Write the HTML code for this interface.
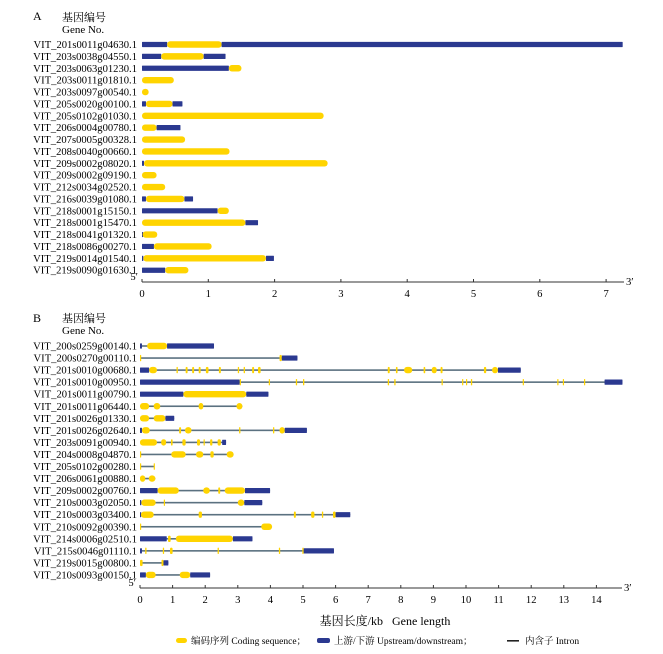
<!DOCTYPE html>
<html><head><meta charset="utf-8"><style>
html,body{margin:0;padding:0;background:#fff}
svg{display:block;font-family:"Liberation Serif","Noto Serif CJK SC",serif}
</style></head><body>
<svg id="chart" width="663" height="654" viewBox="0 0 663 654" xmlns="http://www.w3.org/2000/svg">
<text x="33" y="20" font-size="12">A</text>
<text x="62" y="21" font-size="11">基因编号</text>
<text x="62" y="33" font-size="11">Gene No.</text>
<text x="33" y="322" font-size="12">B</text>
<text x="62" y="322" font-size="11">基因编号</text>
<text x="62" y="334" font-size="11">Gene No.</text>
<text x="385" y="625" font-size="12" text-anchor="middle">基因长度/kb&#160;&#160;&#160;Gene length</text>
<g font-size="9.5">
<rect x="176" y="638" width="11" height="5" rx="2.5" fill="#FFD400"/>
<text x="191" y="644">编码序列 Coding sequence；</text>
<rect x="317" y="638" width="13" height="5" rx="2" fill="#2B3990"/>
<text x="334" y="644">上游/下游 Upstream/downstream；</text>
<rect x="507" y="640" width="12" height="1.6" fill="#222"/>
<text x="525" y="644">内含子 Intron</text>
</g>
</svg>
<script>
const namesA = ["VIT_201s0011g04630.1","VIT_203s0038g04550.1","VIT_203s0063g01230.1","VIT_203s0011g01810.1","VIT_203s0097g00540.1","VIT_205s0020g00100.1","VIT_205s0102g01030.1","VIT_206s0004g00780.1","VIT_207s0005g00328.1","VIT_208s0040g00660.1","VIT_209s0002g08020.1","VIT_209s0002g09190.1","VIT_212s0034g02520.1","VIT_216s0039g01080.1","VIT_218s0001g15150.1","VIT_218s0001g15470.1","VIT_218s0041g01320.1","VIT_218s0086g00270.1","VIT_219s0014g01540.1","VIT_219s0090g01630.1"];
const segsA = [
 [["b",0,0.38],["y",0.38,1.2],["b",1.2,7.25]],
 [["b",0,0.29],["y",0.29,0.93],["b",0.93,1.26]],
 [["b",0,1.31],["y",1.31,1.5]],
 [["y",0,0.48]],
 [["y",0,0.1]],
 [["b",0,0.06],["y",0.06,0.46],["b",0.46,0.61]],
 [["y",0,2.74]],
 [["y",0,0.22],["b",0.22,0.58]],
 [["y",0,0.65]],
 [["y",0,1.32]],
 [["b",0,0.03],["y",0.03,2.8]],
 [["y",0,0.22]],
 [["y",0,0.35]],
 [["b",0,0.06],["y",0.06,0.64],["b",0.64,0.77]],
 [["b",0,1.14],["y",1.14,1.31]],
 [["y",0,1.56],["b",1.56,1.75]],
 [["b",0,0.01],["y",0.01,0.23]],
 [["b",0,0.18],["y",0.18,1.05]],
 [["b",0,0.02],["y",0.02,1.87],["b",1.87,1.99]],
 [["b",0,0.35],["y",0.35,0.7]]
];
const ticksA = [0,1,2,3,4,5,6,7];

const namesB = ["VIT_200s0259g00140.1","VIT_200s0270g00110.1","VIT_201s0010g00680.1","VIT_201s0010g00950.1","VIT_201s0011g00790.1","VIT_201s0011g06440.1","VIT_201s0026g01330.1","VIT_201s0026g02640.1","VIT_203s0091g00940.1","VIT_204s0008g04870.1","VIT_205s0102g00280.1","VIT_206s0061g00880.1","VIT_209s0002g00760.1","VIT_210s0003g02050.1","VIT_210s0003g03400.1","VIT_210s0092g00390.1","VIT_214s0006g02510.1","VIT_215s0046g01110.1","VIT_219s0015g00800.1","VIT_210s0093g00150.1"];
const totalB = [2.27,4.83,11.68,14.8,3.94,3.14,1.05,5.12,2.64,2.87,0.45,0.47,3.99,3.75,6.45,4.05,3.45,5.95,0.87,2.15];
const segsB = [
 [["b",0,0.06],["y",0.22,0.83],["b",0.83,2.27]],
 [["y",0,0.02],["y",4.28,4.35],["b",4.35,4.83]],
 [["b",0,0.28],["y",0.28,0.52],["y",1.12,1.16],["y",1.4,1.46],["y",1.6,1.66],["y",1.8,1.86],["y",2.02,2.1],["y",2.42,2.48],["y",3.0,3.04],["y",3.18,3.22],["y",3.44,3.5],["y",3.62,3.7],["y",7.6,7.66],["y",7.85,7.9],["y",8.1,8.35],["y",8.7,8.75],["y",8.95,9.1],["y",9.22,9.28],["y",10.55,10.62],["y",10.8,10.98],["b",10.98,11.68]],
 [["b",0,3.06],["y",3.06,3.08],["y",3.95,3.98],["y",4.78,4.82],["y",5.0,5.04],["y",7.6,7.64],["y",7.8,7.84],["y",9.25,9.28],["y",9.88,9.91],["y",10.0,10.03],["y",10.15,10.19],["y",11.74,11.77],["y",12.8,12.83],["y",12.97,13.0],["y",13.62,13.65],["b",14.25,14.8]],
 [["b",0,1.33],["y",1.33,3.26],["b",3.26,3.94]],
 [["y",0,0.28],["y",0.42,0.62],["y",1.8,1.94],["y",2.96,3.14]],
 [["y",0,0.28],["y",0.42,0.78],["b",0.78,1.05]],
 [["b",0,0.06],["y",0.06,0.3],["y",1.2,1.26],["y",1.38,1.58],["y",3.04,3.08],["y",4.08,4.12],["y",4.28,4.44],["b",4.44,5.12]],
 [["y",0,0.52],["y",0.65,0.8],["y",0.95,1.0],["y",1.3,1.4],["y",1.75,1.84],["y",1.95,1.98],["y",2.15,2.22],["y",2.38,2.48],["b",2.52,2.64]],
 [["y",0,0.03],["y",0.96,1.4],["y",1.72,1.94],["y",2.16,2.26],["y",2.66,2.87]],
 [["y",0,0.02],["y",0.42,0.45]],
 [["y",0,0.16],["y",0.27,0.47]],
 [["b",0,0.54],["y",0.54,1.19],["y",1.94,2.14],["y",2.4,2.46],["y",2.6,3.22],["b",3.22,3.99]],
 [["b",0,0.04],["y",0.04,0.48],["y",0.73,0.76],["y",3.0,3.2],["b",3.2,3.75]],
 [["b",0,0.03],["y",0.03,0.42],["y",1.8,1.9],["y",4.72,4.78],["y",5.25,5.35],["y",5.58,5.62],["y",5.92,6.0],["b",6.0,6.45]],
 [["y",0,0.02],["y",3.72,4.05]],
 [["b",0,0.82],["y",0.86,0.94],["y",1.1,2.85],["b",2.85,3.45]],
 [["b",0,0.06],["y",0.16,0.2],["y",0.7,0.74],["y",0.92,1.0],["y",2.38,2.42],["y",4.26,4.3],["y",4.98,5.02],["b",5.02,5.95]],
 [["y",0,0.08],["y",0.66,0.72],["b",0.72,0.87]],
 [["b",0,0.18],["y",0.18,0.48],["y",1.22,1.54],["b",1.54,2.15]]
];
const ticksB = [0,1,2,3,4,5,6,7,8,9,10,11,12,13,14];

const NS="http://www.w3.org/2000/svg";
const svg=document.getElementById("chart");
function mk(tag,attrs,parent){const e=document.createElementNS(NS,tag);for(const k in attrs)e.setAttribute(k,attrs[k]);(parent||svg).appendChild(e);return e;}

function panel(cfg,names,segs,totals,ticks,id){
  const xs=v=>cfg.x0+v*cfg.pxPerKb;
  const ys=i=>cfg.y0+i*cfg.step;
  const g=mk("g",{});
  
  
  names.forEach((n,i)=>{
    const t=mk("text",{x:137,y:ys(i)+3.5,"font-size":"10.6","text-anchor":"end"},g);
    t.textContent=n;
    
    
    if(totals){
      const l=mk("rect",{x:xs(0),y:ys(i)-0.8,width:xs(totals[i])-xs(0),height:1.6,fill:"#5b7180"},g);
      
      
    }
    segs[i].forEach(s=>{
      const w=Math.max(xs(s[2])-xs(s[1]),1.2);
      const y=s[0]==="y";
      const r=mk("rect",{x:xs(s[1]),y:ys(i)-(y?3.2:2.6),width:w,height:y?6.4:5.2,rx:y?Math.min(3,w/2):0.5,fill:y?"#FFD400":"#2B3990"},g);
      
      
    });
  });
  const ax=mk("line",{x1:cfg.x0,x2:cfg.axEnd,y1:cfg.axY,y2:cfg.axY,stroke:"#333","stroke-width":1},g);
  
  
  ticks.forEach(v=>{
    const tk=mk("line",{x1:xs(v),x2:xs(v),y1:cfg.axY,y2:cfg.axY-3,stroke:"#333","stroke-width":1},g);
    
    
    const tl=mk("text",{x:xs(v),y:cfg.axY+15,"font-size":"10.6","text-anchor":"middle"},g);
    tl.textContent=v;
    
    
  });
  const p5=mk("text",{x:cfg.x0-4,y:cfg.axY-2,"font-size":"10.6","text-anchor":"end"},g);
  p5.textContent="5′";
  
  
  const p3=mk("text",{x:cfg.axEnd+2,y:cfg.axY+3,"font-size":"10.6"},g);
  p3.textContent="3′";
  
  
}
panel({x0:142,pxPerKb:66.3,y0:44.5,step:11.88,axY:282,axEnd:624},namesA,segsA,null,ticksA,"a");
panel({x0:140,pxPerKb:32.6,y0:346,step:12.05,axY:588,axEnd:622},namesB,segsB,totalB,ticksB,"b");
</script>
</body></html>
